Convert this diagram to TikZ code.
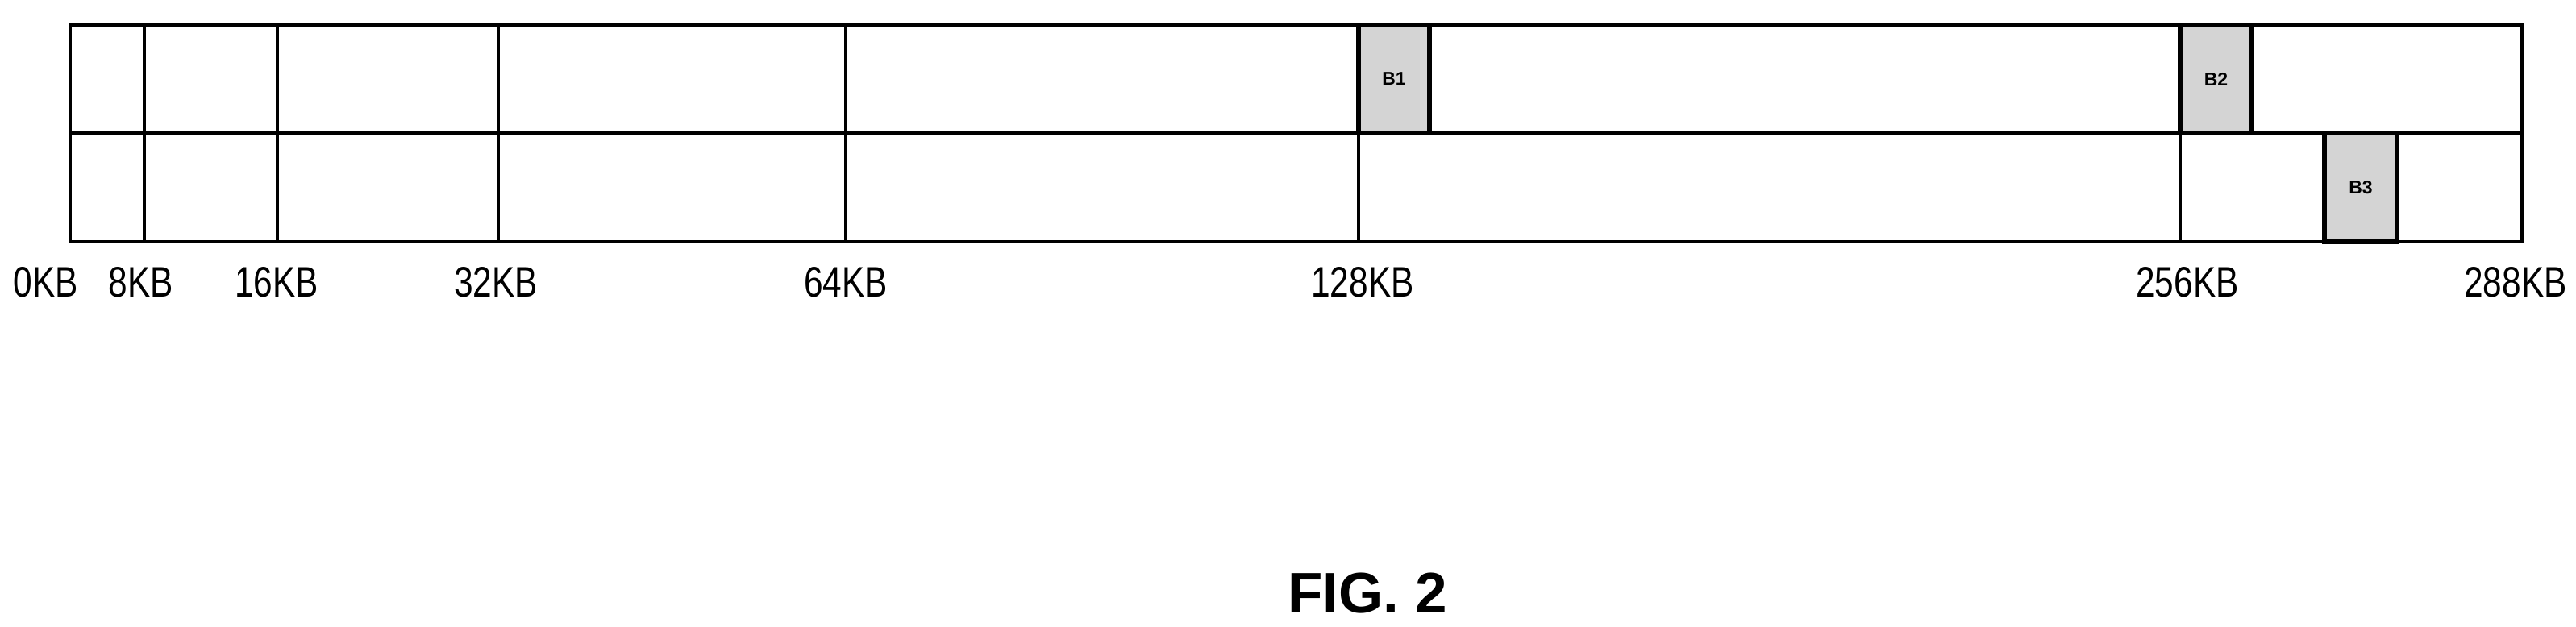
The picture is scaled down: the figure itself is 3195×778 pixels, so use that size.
\documentclass[tikz,border=0pt]{standalone}
\usepackage{fontspec}
\usepackage{graphicx}
\setmainfont{Liberation Sans}
\newcommand{\narrowtext}[1]{\scalebox{0.8}[1]{#1}}
\begin{document}
\begin{tikzpicture}[x=1pt,y=-1pt,
  grid/.style={line width=3.5pt},
  blk/.style={draw,line width=6pt,fill=black!17},
  kb/.style={anchor=base,font=\fontsize{53}{60}\selectfont},
  bl/.style={font=\bfseries\fontsize{23}{28}\selectfont}]
\useasboundingbox (0,0) rectangle (3195,778);
\draw[grid] (87,31) rectangle (3128,300);
\draw[grid] (87,165) -- (3128,165);
\foreach \x in {179,344,618,1049,1685,2704}
  \draw[grid] (\x,31) -- (\x,300);
\draw[blk] (1685,31) rectangle node[bl]{B1} (1773,165);
\draw[blk] (2704,31) rectangle node[bl]{B2} (2793,165);
\draw[blk] (2883,165) rectangle node[bl]{B3} (2973,300);
\node[kb] (l0) at (57,368) {\narrowtext{0KB}};
\node[kb] (l8) at (175,368) {\narrowtext{8KB}};
\node[kb] (l16) at (343,368) {\narrowtext{16KB}};
\node[kb] (l32) at (615,368) {\narrowtext{32KB}};
\node[kb] (l64) at (1049,368) {\narrowtext{64KB}};
\node[kb] (l128) at (1690,368) {\narrowtext{128KB}};
\node[kb] (l256) at (2713,368) {\narrowtext{256KB}};
\node[kb] (l288) at (3120,368) {\narrowtext{288KB}};
\node[anchor=base,font=\bfseries\fontsize{71}{80}\selectfont] (fig) at (1696,760) {FIG. 2};
\end{tikzpicture}
\end{document}
